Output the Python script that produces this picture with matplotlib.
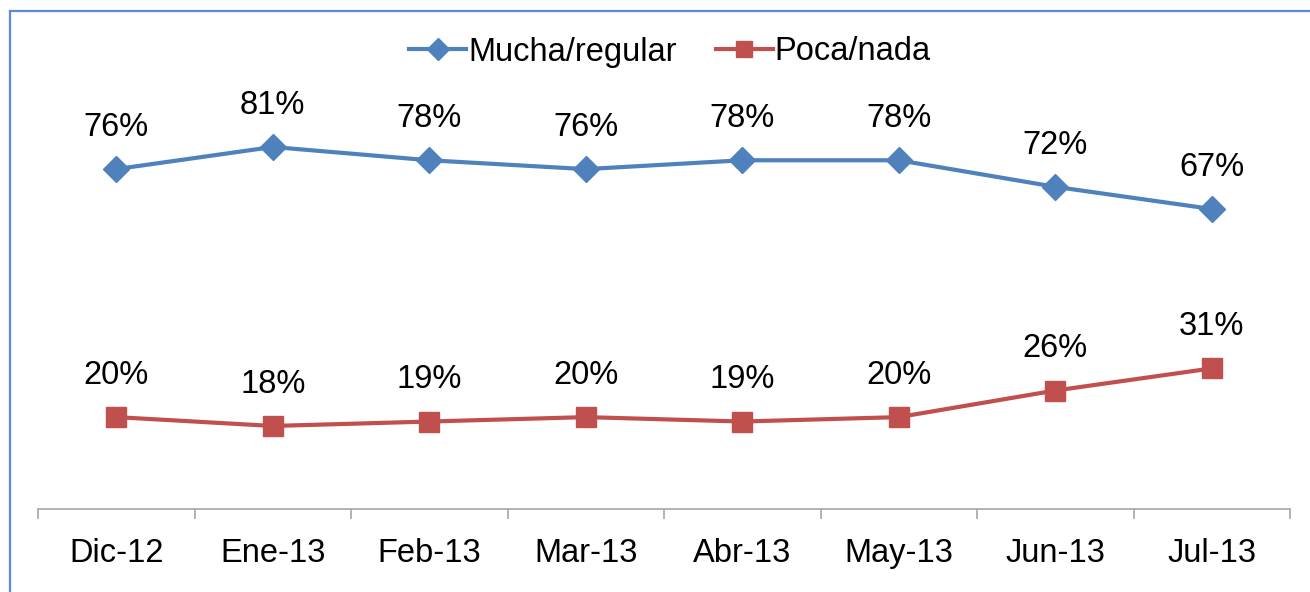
import matplotlib.pyplot as plt
import numpy as np

months = ['Dic-12', 'Ene-13', 'Feb-13', 'Mar-13', 'Abr-13', 'May-13', 'Jun-13', 'Jul-13']
mucha = [76, 81, 78, 76, 78, 78, 72, 67]
poca = [20, 18, 19, 20, 19, 20, 26, 31]

plt.rcParams['font.family'] = ['Liberation Sans', 'DejaVu Sans']
fs = 23.5

fig = plt.figure(figsize=(13.1, 5.92), dpi=100)
ax = fig.add_axes([38 / 1310, 1 - 509 / 592, (1290 - 38) / 1310, (509 - 110) / 592])

x = np.arange(len(months))
ax.plot(x, mucha, color='#4F81BD', lw=3, marker='D', ms=13, label='Mucha/regular')
ax.plot(x, poca, color='#C0504D', lw=3, marker='s', ms=14, label='Poca/nada')

# etiquetas de datos encima de cada punto
for xi, v in zip(x, mucha):
    ax.annotate(f'{v}%', (xi, v), xytext=(0, 30), textcoords='offset points',
                ha='center', va='center', fontsize=fs)
for xi, v in zip(x, poca):
    ax.annotate(f'{v}%', (xi, v), xytext=(0, 30), textcoords='offset points',
                ha='center', va='center', fontsize=fs)

ax.set_xlim(-0.5, len(months) - 0.5)
ax.set_ylim(-0.75, 89.35)
ax.set_yticks([])
ax.set_xticks(x)
ax.set_xticklabels(months, fontsize=fs)
ax.set_xticks(np.arange(-0.5, len(months)), minor=True)
ax.tick_params(axis='x', which='major', length=0, pad=21)
ax.tick_params(axis='x', which='minor', length=7, color='#A6A6A6', width=1.2)
for s in ['top', 'left', 'right']:
    ax.spines[s].set_visible(False)
ax.spines['bottom'].set_color('#A6A6A6')
ax.spines['bottom'].set_linewidth(1.2)

leg = fig.legend(loc='center', bbox_to_anchor=(670 / 1310, 1 - 52 / 592), ncol=2,
                 frameon=False, fontsize=fs, handlelength=1.75, handletextpad=0.05,
                 columnspacing=1.2, markerscale=0.85)

# borde azul arriba y a la izquierda
fig.add_artist(plt.Line2D([10 / 1310, 10 / 1310], [0, 1 - 10.5 / 592], color='#5B8BD5', lw=1.6))
fig.add_artist(plt.Line2D([10 / 1310, 1], [1 - 10.5 / 592, 1 - 10.5 / 592], color='#5B8BD5', lw=1.6))

fig.savefig('out.png', dpi=100)
